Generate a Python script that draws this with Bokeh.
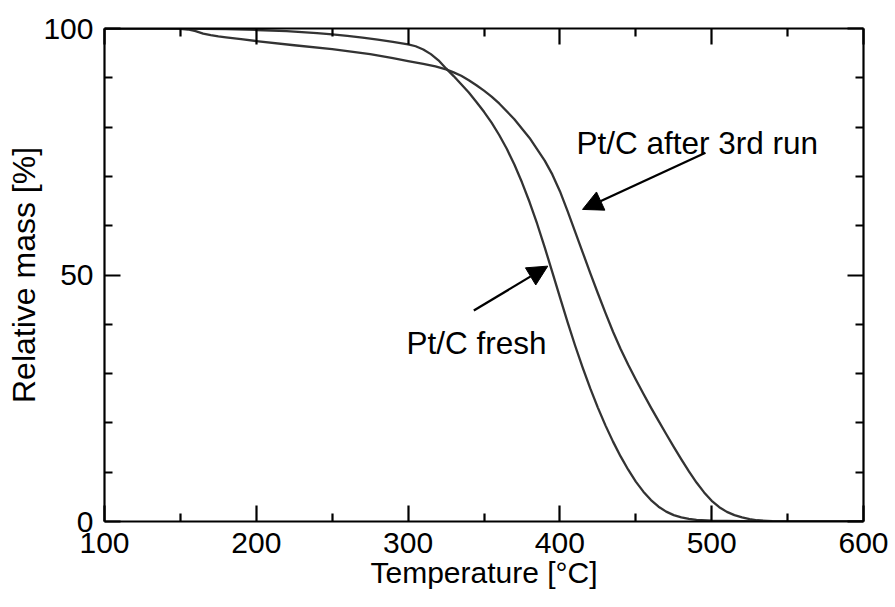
from bokeh.plotting import figure
from bokeh.models import (Range1d, FixedTicker, LinearAxis, Arrow, NormalHead, Label,
                          CustomJSTickFormatter)
from bokeh.embed import file_html
from bokeh.resources import INLINE

# ---- data ----
fresh_T = [100, 150, 180, 200, 220, 240, 250, 260, 270, 280, 290, 300, 305, 310, 315, 320, 325,
           330, 335, 340, 345, 350, 355, 360, 365, 370, 375, 380, 385, 390, 395, 400, 405, 410,
           415, 420, 425, 430, 435, 440, 445, 450, 455, 460, 465, 470, 475, 480, 485, 490, 500,
           520, 560, 600]
fresh_m = [100.0, 100.0, 99.88, 99.7, 99.45, 99.05, 98.8, 98.5, 98.15, 97.75, 97.3, 96.8, 96.4, 95.75, 94.8, 93.55, 91.9,
           90.35, 88.7, 87.0, 85.1, 83.1, 80.9, 78.4, 75.6, 72.4, 68.8, 64.8, 60.4, 55.6, 50.6, 45.5, 40.5, 35.7,
           31.2, 27.0, 23.1, 19.5, 16.2, 13.2, 10.5, 8.1, 6.05, 4.35, 3.0, 2.0, 1.3, 0.85, 0.55, 0.35, 0.15,
           0.05, 0.0, 0.0]

run3_T = [100, 140, 150, 155, 160, 165, 170, 175, 180, 190, 200, 225, 250, 275, 290, 300, 310, 318,
          325, 330, 335, 340, 345, 350, 355, 360, 370, 380, 390, 395, 400, 405, 410, 415, 420, 425,
          430, 435, 440, 445, 450, 455, 460, 465, 470, 475, 480, 485, 490, 495, 500, 505, 510, 515,
          520, 525, 530, 540, 560, 600]
run3_m = [100.0, 100.0, 99.95, 99.8, 99.45, 98.95, 98.65, 98.4, 98.2, 97.85, 97.45, 96.6, 95.8, 94.8, 94.0, 93.4, 92.8, 92.3,
          91.7, 91.1, 90.4, 89.5, 88.5, 87.4, 86.2, 84.8, 81.6, 77.8, 73.2, 70.4, 67.0, 63.0, 58.8, 54.6, 50.4, 46.3,
          42.3, 38.5, 35.0, 31.8, 28.8, 25.9, 23.1, 20.4, 17.75, 15.15, 12.6, 10.15, 7.9, 5.9, 4.2, 2.9, 1.95, 1.3,
          0.85, 0.5, 0.25, 0.08, 0.02, 0.0]

x_major = [100, 200, 300, 400, 500, 600]
x_minor = [150, 250, 350, 450, 550]
y_major = [0, 50, 100]
y_minor = [10, 20, 30, 40, 60, 70, 80, 90]

labels = ["Pt/C after 3rd run", "Pt/C fresh"]
label_pos = [(410.9, 76.7), (298.9, 36.2)]
arrow_from = [(495.9, 74.8), (343.3, 42.8)]
arrow_to = [(414.9, 63.3), (392.0, 51.8)]

FONT = "Liberation Sans"

p = figure(width=895, height=607, x_range=Range1d(100, 600), y_range=Range1d(0, 100),
           output_backend="svg", toolbar_location=None,
           min_border_left=104, min_border_right=32, min_border_top=28, min_border_bottom=86)
p.grid.visible = False
p.outline_line_color = None
p.background_fill_color = "white"
p.border_fill_color = "white"

line_color = "#333333"
p.line(fresh_T, fresh_m, line_color=line_color, line_width=2.3, line_join="round")
p.line(run3_T, run3_m, line_color=line_color, line_width=2.3, line_join="round")

xt = FixedTicker(ticks=x_major, minor_ticks=x_minor)
yt = FixedTicker(ticks=y_major, minor_ticks=y_minor)


def style(ax, show_labels, title_size="30px", title_standoff=0):
    ax.axis_line_width = 2.2
    ax.axis_line_color = "black"
    ax.major_tick_in = 16
    ax.major_tick_out = 0
    ax.minor_tick_in = 8
    ax.minor_tick_out = 0
    ax.major_tick_line_width = 2.2
    ax.minor_tick_line_width = 2.2
    ax.major_tick_line_color = "black"
    ax.minor_tick_line_color = "black"
    if show_labels:
        ax.major_label_text_font = FONT
        ax.major_label_text_font_size = "30px"
        ax.major_label_text_color = "black"
        ax.major_label_standoff = 11
        ax.axis_label_text_font = FONT
        ax.axis_label_text_font_size = title_size
        ax.axis_label_text_font_style = "normal"
        ax.axis_label_text_color = "black"
        ax.axis_label_standoff = title_standoff
    else:
        ax.formatter = CustomJSTickFormatter(code="return ''")
        ax.major_label_standoff = 0


p.xaxis.ticker = xt
p.yaxis.ticker = yt
p.xaxis.axis_label = "Temperature [°C]"
p.yaxis.axis_label = "Relative mass [%]"
style(p.xaxis[0], True, "30px", 0)
style(p.yaxis[0], True, "32px", -2)

top = LinearAxis(ticker=xt)
right = LinearAxis(ticker=yt)
style(top, False)
style(right, False)
p.add_layout(top, "above")
p.add_layout(right, "right")

for txt, (lx, ly) in zip(labels, label_pos):
    p.add_layout(Label(x=lx, y=ly, text=txt, text_font=FONT, text_font_size="31.5px",
                       text_color="black", text_baseline="alphabetic", text_align="left"))

for (x0, y0), (x1, y1) in zip(arrow_from, arrow_to):
    p.add_layout(Arrow(x_start=x0, y_start=y0, x_end=x1, y_end=y1, line_width=2.3,
                       line_color="black",
                       end=NormalHead(size=20, fill_color="black", line_color="black", line_width=1)))

open("out.html", "w").write(file_html(p, INLINE))
